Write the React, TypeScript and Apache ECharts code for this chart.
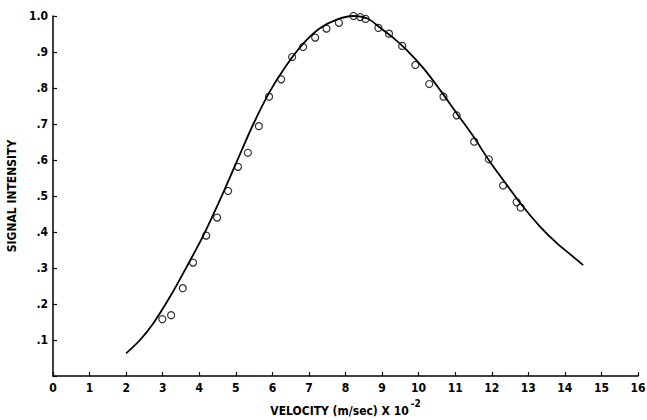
import React, { useEffect, useRef } from "react";
import * as echarts from "echarts";

// Measured data points (velocity x 10^-2 m/s, normalized signal intensity)
const pointX = [2.99, 3.23, 3.55, 3.83, 4.19, 4.49, 4.79, 5.06, 5.33, 5.63, 5.91, 6.24, 6.54, 6.84, 7.17, 7.48, 7.82, 8.22, 8.40, 8.55, 8.90, 9.19, 9.55, 9.91, 10.29, 10.68, 11.04, 11.52, 11.92, 12.31, 12.68, 12.79];
const pointY = [0.158, 0.169, 0.244, 0.315, 0.390, 0.440, 0.514, 0.581, 0.620, 0.694, 0.776, 0.824, 0.886, 0.914, 0.940, 0.965, 0.981, 1.0, 0.997, 0.992, 0.967, 0.951, 0.917, 0.864, 0.811, 0.776, 0.724, 0.651, 0.602, 0.529, 0.483, 0.468];

// Fitted curve
const curveX = [2.0, 2.38, 2.74, 3.2, 3.66, 4.11, 4.57, 5.02, 5.48, 5.94, 6.39, 6.85, 7.3, 7.76, 8.2, 8.6, 8.94, 9.3, 9.67, 10.13, 10.59, 11.04, 11.5, 11.95, 12.41, 12.86, 13.32, 13.78, 14.23, 14.5];
const curveY = [0.063, 0.10, 0.146, 0.220, 0.304, 0.390, 0.490, 0.594, 0.700, 0.792, 0.864, 0.924, 0.966, 0.990, 1.0, 0.993, 0.968, 0.940, 0.906, 0.855, 0.794, 0.730, 0.665, 0.595, 0.531, 0.470, 0.415, 0.369, 0.331, 0.308];

const xTicks = ["0", "1", "2", "3", "4", "5", "6", "7", "8", "9", "10", "11", "12", "13", "14", "15", "16"];
const yTicks = ["", ".1", ".2", ".3", ".4", ".5", ".6", ".7", ".8", ".9", "1.0"];

const FONT = "'DejaVu Sans Condensed', 'DejaVu Sans', sans-serif";

export default function App() {
  const ref = useRef<HTMLDivElement>(null);
  useEffect(() => {
    if (!ref.current) return;
    const chart = echarts.init(ref.current, undefined, { renderer: "svg" });
    chart.setOption({
      animation: false,
      backgroundColor: "#ffffff",
      grid: { left: 53, right: 9, top: 16, bottom: 44, containLabel: false, outerBoundsMode: "none" },
      xAxis: {
        type: "value",
        min: 0,
        max: 16,
        interval: 1,
        name: "{t|VELOCITY (m/sec) X 10}{sup|-2}",
        nameLocation: "middle",
        nameGap: 22,
        nameTextStyle: {
          color: "#000",
          fontFamily: FONT,
          fontSize: 12,
          fontWeight: "bold",
          rich: {
            t: { fontSize: 12, fontFamily: FONT, fontWeight: "bold", color: "#000", lineHeight: 18, verticalAlign: "bottom" },
            sup: { fontSize: 10, fontFamily: FONT, fontWeight: "bold", color: "#000", lineHeight: 18, verticalAlign: "top", padding: [0, 0, 0, 2] },
          },
        },
        axisLine: { show: true, onZero: false, lineStyle: { color: "#000", width: 1.5 } },
        axisTick: { show: true, inside: true, length: 4, lineStyle: { color: "#000", width: 1.2 } },
        axisLabel: {
          color: "#000",
          fontFamily: FONT,
          fontSize: 12,
          fontWeight: "bold",
          margin: 6,
          formatter: (v: number) => xTicks[Math.round(v)] ?? "",
        },
        splitLine: { show: false },
      },
      yAxis: {
        type: "value",
        min: 0,
        max: 1,
        interval: 0.1,
        name: "SIGNAL INTENSITY",
        nameLocation: "middle",
        nameGap: 33,
        nameRotate: 90,
        nameTextStyle: { color: "#000", fontFamily: FONT, fontSize: 12, fontWeight: "bold" },
        axisLine: { show: true, onZero: false, lineStyle: { color: "#000", width: 1.5 } },
        axisTick: { show: true, inside: true, length: 4, lineStyle: { color: "#000", width: 1.2 } },
        axisLabel: {
          color: "#000",
          fontFamily: FONT,
          fontSize: 12,
          fontWeight: "bold",
          margin: 5,
          formatter: (v: number) => yTicks[Math.round(v * 10)] ?? "",
        },
        splitLine: { show: false },
      },
      series: [
        {
          type: "line",
          data: curveX.map((x, i) => [x, curveY[i]]),
          smooth: 0.3,
          showSymbol: false,
          lineStyle: { color: "#000", width: 1.8 },
          z: 2,
        },
        {
          type: "scatter",
          data: pointX.map((x, i) => [x, pointY[i]]),
          symbol: "circle",
          symbolSize: 7,
          itemStyle: { color: "rgba(255,255,255,0)", borderColor: "#000", borderWidth: 1.2 },
          z: 3,
        },
      ],
    });
    return () => chart.dispose();
  }, []);
  return (
    <div
      ref={ref}
      style={{ position: "fixed", left: 0, top: 0, width: 647, height: 420, background: "#fff" }}
    />
  );
}
